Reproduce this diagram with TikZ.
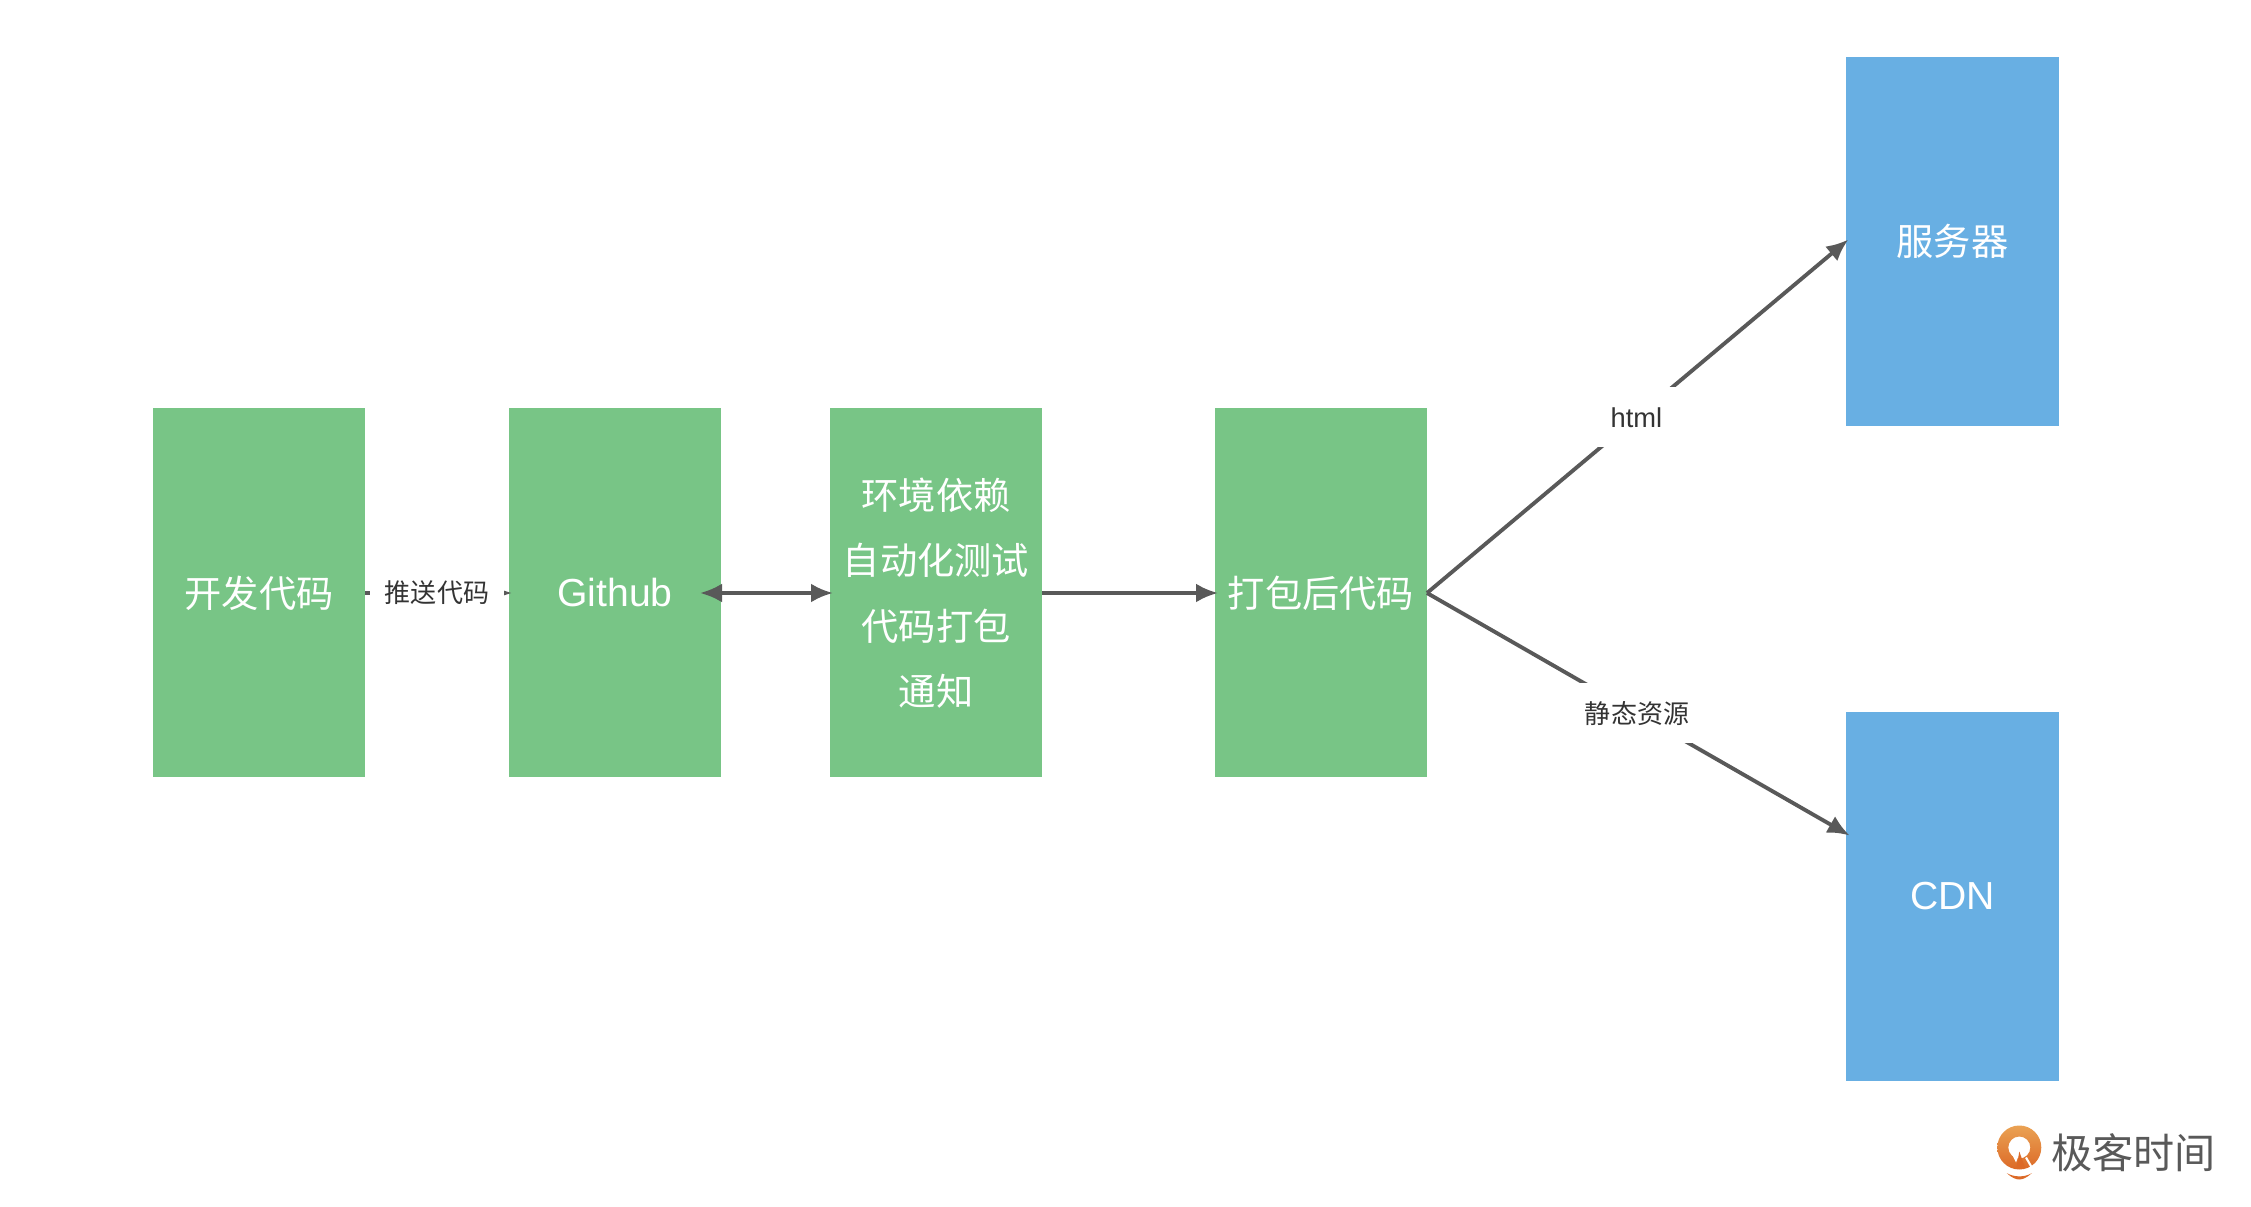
\documentclass[tikz,border=0pt]{standalone}
\usepackage{fontspec}
\setmainfont{Noto Sans CJK SC}
\newfontfamily\latnfont[Scale=1.05]{Liberation Sans}
\usetikzlibrary{arrows.meta}
\definecolor{boxgreen}{HTML}{78C586}
\definecolor{boxblue}{HTML}{68AFE3}
\definecolor{linegray}{HTML}{595959}
\definecolor{labelgray}{HTML}{333333}
\definecolor{logogray}{HTML}{595959}
\definecolor{logotop}{HTML}{EAA253}
\definecolor{logobot}{HTML}{DC6A28}
\tikzset{
  stepbox/.style={minimum width=2.12cm, minimum height=3.69cm, inner sep=0pt, outer sep=0pt, text=white, align=center,
    font=\fontsize{10.6pt}{18.6pt}\selectfont},
  greenbox/.style={stepbox, fill=boxgreen},
  bluebox/.style={stepbox, fill=boxblue},
  flow/.style={draw=linegray, line width=1.1pt, ->, shorten >=-0.03cm},
  edgelabel/.style={fill=white, text=labelgray, inner xsep=0.15cm, inner ysep=0pt, minimum height=0.6cm,
    font=\fontsize{7.4pt}{9pt}\selectfont}
}
\begin{document}
\begin{tikzpicture}[>={Latex[length=0.22cm,width=0.19cm]}]
    \useasboundingbox (0,0) rectangle (22.51,12.06);
    \node[greenbox] (dev) at (2.59,6.13) {开发代码};
    \node[greenbox] (github) at (6.15,6.13) {\latnfont Github};
    \node[greenbox] (ci) at (9.36,6.13) {环境依赖\\自动化测试\\代码打包\\通知};
    \node[greenbox] (bundle) at (13.21,6.13) {打包后代码};
    \node[bluebox, minimum width=2.13cm] (server) at (19.525,9.645) {服务器};
    \node[bluebox, minimum width=2.13cm] (cdn) at (19.525,3.095) {\latnfont CDN};
    \coordinate (gitin) at (7.00,6.13);
    \coordinate (cdnin) at (18.47,3.72);
    \draw[flow] (dev) -- node[edgelabel] (push) {推送代码} (github);
    \draw[flow, <->] (gitin) -- (ci);
    \draw[flow] (ci) -- (bundle);
    \draw[flow] (bundle.east) -- node[edgelabel] (html) {\latnfont html} (server.west);
    \draw[flow] (bundle.east) -- node[edgelabel] (static) {静态资源} (cdnin);
    \coordinate (logopin) at (20.193,0.585);
    \path[even odd rule, top color=logotop, bottom color=logobot]
        (logopin) circle (0.22) (logopin) circle (0.11);
    \fill[white] (20.11,0.535) -- (20.16,0.435) -- (20.19,0.515) -- cycle;
    \fill[logobot] (20.193,0.545) -- (20.165,0.385) -- (20.25,0.385) -- cycle;
    \draw[white, line width=0.6pt] (20.26,0.485) -- (20.335,0.355);
    \fill[logobot] (20.067,0.33) .. controls (20.14,0.285) and (20.25,0.285) .. (20.32,0.33)
        .. controls (20.27,0.285) and (20.23,0.265) .. (20.193,0.265)
        .. controls (20.16,0.265) and (20.11,0.285) .. cycle;
    \node[text=logogray, inner sep=0pt, font=\fontsize{11.7pt}{12pt}\selectfont] (logo) at (21.335,0.53) {极客时间};
\end{tikzpicture}
\end{document}
